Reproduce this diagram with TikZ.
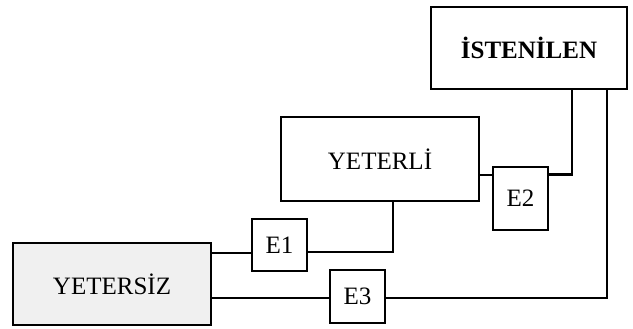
\documentclass[tikz,border=0pt]{standalone}
\usepackage{fontspec}
\setmainfont{Liberation Serif}
\usepackage{tikz}

\begin{document}
\begin{tikzpicture}[x=1pt, y=-1pt, line width=2.2pt,
  box/.style={draw, rectangle, inner sep=0pt, font=\fontsize{25}{29}\selectfont}]
\useasboundingbox (0,0) rectangle (633,329);

\node[box, minimum width=196pt, minimum height=82pt] (istenilen) at (529,48) {\textbf{İSTENİLEN}};
\node[box, minimum width=198pt, minimum height=84pt] (yeterli) at (380,159) {YETERLİ};
\node[box, fill=black!6, minimum width=198pt, minimum height=82pt] (yetersiz) at (112,284) {YETERSİZ};
\node[box, minimum width=55pt, minimum height=52pt] (e1) at (279.5,245) {E1};
\node[box, minimum width=55pt, minimum height=63pt] (e2) at (520.5,198.5) {E2};
\node[box, minimum width=55pt, minimum height=53pt] (e3) at (357.5,296.5) {E3};
\draw  ([yshift=-8pt]e1.west) -- ([yshift=-8pt]e1.west -| yetersiz.east);
\draw  ([yshift=-7pt]e1.east) -| ([xshift=13pt]yeterli.south);
\draw  ([yshift=-16pt]yeterli.east) -- ([yshift=-16pt]yeterli.east -| e2.west);
\draw  ([yshift=24pt]e2.east) -| ([xshift=43pt]istenilen.south);
\draw  ([yshift=-14pt]yetersiz.east) -- ([yshift=-14pt]yetersiz.east -| e3.west);
\draw  ([yshift=-14pt]yetersiz.east -| e3.east) -| ([xshift=78pt]istenilen.south);
\end{tikzpicture}
\end{document}
